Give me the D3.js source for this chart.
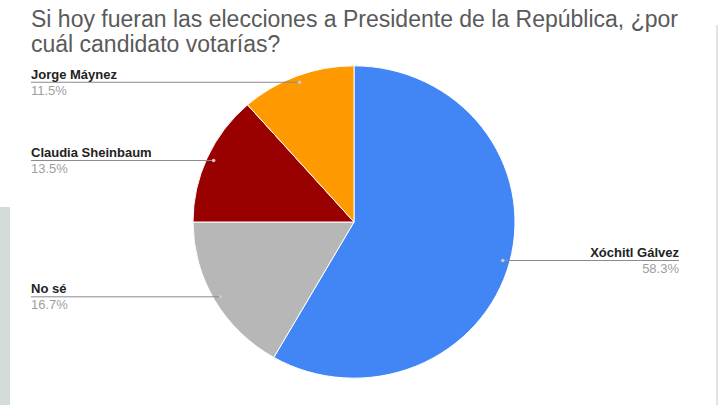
<!DOCTYPE html>
<html><head><meta charset="utf-8">
<script src="https://cdn.jsdelivr.net/npm/d3@7"></script>
<style>body{margin:0;background:#fff}svg{display:block}</style>
</head><body>
<svg id="c" width="720" height="405"></svg>
<script>
const titleLines = ["Si hoy fueran las elecciones a Presidente de la República, ¿por", "cuál candidato votarías?"];
const categories = ["Xóchitl Gálvez", "No sé", "Claudia Sheinbaum", "Jorge Máynez"];
const values = [58.3, 16.7, 13.5, 11.5];
const colors = ["#4285f4", "#b7b7b7", "#990000", "#ff9900"];

const svg = d3.select("#c");
// photo artifacts: left panel and right edge
svg.append("rect").attr("x",0).attr("y",207).attr("width",10).attr("height",198).attr("fill","#d3dcdb");
svg.append("rect").attr("x",716).attr("y",25).attr("width",2).attr("height",380).attr("fill","#dfe5e4");

const font = "Liberation Sans, Arial, sans-serif";
svg.selectAll("text.title").data(titleLines).join("text")
  .attr("class","title").attr("x",31).attr("y",(d,i)=>27+i*25)
  .attr("font-family",font).attr("font-size",23)
  .attr("fill","#5a5a5a").text(d=>d);

const cx = 354, cy = 222, R = 161, sy = 0.97;
const g = svg.append("g").attr("transform",`translate(${cx},${cy}) scale(1,${sy})`);
const pie = d3.pie().sort(null).value(d=>d.v);
const data = pie(categories.map((c,i)=>({c, v:values[i], col:colors[i]})));
const arc = d3.arc().innerRadius(0).outerRadius(R);
g.selectAll("path").data(data).join("path")
  .attr("d",arc).attr("fill",d=>d.data.col).attr("stroke","#fff").attr("stroke-width",1);

const anchorArc = d3.arc().innerRadius(154).outerRadius(154);
data.forEach(d=>{
  const [ax, ay] = anchorArc.centroid(d);
  const px = cx+ax, py = cy+ay*sy;
  const right = px > cx;
  const tx = right ? 679 : 31;
  svg.append("line").attr("x1",px).attr("y1",py).attr("x2",tx).attr("y2",py)
    .attr("stroke","#8a8a8a").attr("stroke-width",1);
  svg.append("circle").attr("cx",px).attr("cy",py).attr("r",1.8).attr("fill","#c8c8c8");
  const anchor = right ? "end" : "start";
  svg.append("text").attr("x",tx).attr("y",py-3.5).attr("text-anchor",anchor)
    .attr("font-family",font).attr("font-size",13).attr("font-weight","bold").attr("fill","#222")
    .text(d.data.c);
  svg.append("text").attr("x",tx).attr("y",py+12.5).attr("text-anchor",anchor)
    .attr("font-family",font).attr("font-size",13).attr("fill","#9e9e9e")
    .text(d.data.v.toFixed(1)+"%");
});
</script>
</body></html>
